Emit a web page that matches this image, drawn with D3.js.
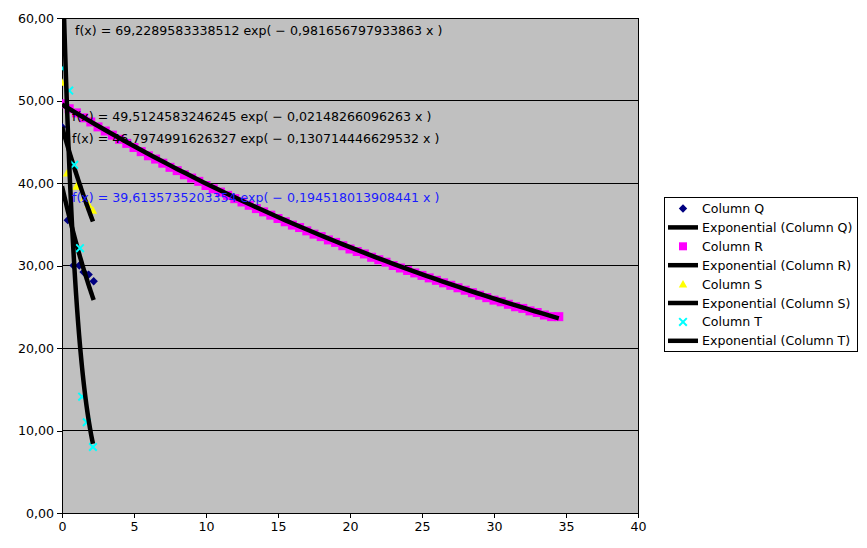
<!DOCTYPE html>
<html><head><meta charset="utf-8">
<script src="https://cdn.jsdelivr.net/npm/d3@7"></script>
<style>body{margin:0;background:#fff}svg{display:block}text{font-family:"DejaVu Sans",sans-serif}</style>
</head><body><svg id="c" width="867" height="548"></svg>
<script>
// Data
const seriesNames = ["Column Q", "Column R", "Column S", "Column T"];
const colQ = [[0,46.8],[0.4,35.5],[0.8,30.0],[1.2,30.0],[1.5,29.2],[1.85,28.9],[2.2,28.1]];
const colRx = [0,0.5,1,1.5,2,2.5,3,3.5,4,4.5,5,5.5,6,6.5,7,7.5,8,8.5,9,9.5,10,10.5,11,11.5,12,12.5,13,13.5,14,14.5,15,15.5,16,16.5,17,17.5,18,18.5,19,19.5,20,20.5,21,21.5,22,22.5,23,23.5,24,24.5,25,25.5,26,26.5,27,27.5,28,28.5,29,29.5,30,30.5,31,31.5,32,32.5,33,33.5,34,34.5];
const colRy = [49.6,49.0,48.5,47.9,47.4,46.8,46.3,45.8,45.3,44.8,44.3,43.8,43.3,42.9,42.4,41.9,41.5,41.0,40.6,40.2,39.7,39.3,38.9,38.5,38.1,37.7,37.3,36.9,36.5,36.1,35.7,35.3,34.9,34.6,34.2,33.8,33.5,33.1,32.8,32.4,32.0,31.7,31.4,31.0,30.7,30.4,30.0,29.7,29.4,29.1,28.8,28.5,28.2,27.9,27.6,27.3,27.0,26.7,26.4,26.1,25.8,25.6,25.3,25.0,24.8,24.5,24.3,24.0,23.8,23.8];
const colS = [[0,52.2],[0.35,41.2],[1.0,39.6],[1.55,38.2],[1.85,37.4],[2.15,36.7]];
const colT = [[0,53.9],[0.5,51.2],[0.85,42.2],[1.25,32.1],[1.4,14.1],[1.72,11.0],[2.15,8.0]];
// Trendline coefficients (from the equations shown)
const trendA = [39.6135735203354, 49.5124583246245, 46.7974991626327, 69.2289583338512];
const trendB = [0.194518013908441, 0.02148266096263, 0.130714446629532, 0.981656797933863];
const trendLabels = [
  "f(x) = 39,6135735203354 exp( \u2212 0,194518013908441 x )",
  "f(x) = 49,5124583246245 exp( \u2212 0,02148266096263 x )",
  "f(x) = 46,7974991626327 exp( \u2212 0,130714446629532 x )",
  "f(x) = 69,2289583338512 exp( \u2212 0,981656797933863 x )"
];
const xTicks = [0,5,10,15,20,25,30,35,40];
const yTicks = [0,10,20,30,40,50,60];
const yTickLabels = ["0,00","10,00","20,00","30,00","40,00","50,00","60,00"];
const legendLabels = ["Column Q","Exponential (Column Q)","Column R","Exponential (Column R)","Column S","Exponential (Column S)","Column T","Exponential (Column T)"];

const colR = colRx.map((x,i)=>[x,colRy[i]]);
const svg = d3.select("#c");
const L=62, R=638, T=18, B=513;
const FS = 12.6;
const x = d3.scaleLinear().domain([0,40]).range([L,R]);
const y = d3.scaleLinear().domain([0,60]).range([B,T]);

svg.append("rect").attr("x",L).attr("y",T).attr("width",R-L).attr("height",B-T).attr("fill","#c0c0c0");
svg.append("g").selectAll("line").data(yTicks).join("line")
  .attr("x1",L).attr("x2",R).attr("y1",d=>y(d)).attr("y2",d=>y(d)).attr("stroke","#000").attr("stroke-width",1).attr("shape-rendering","crispEdges");
svg.append("rect").attr("x",L).attr("y",T).attr("width",R-L).attr("height",B-T).attr("fill","none").attr("stroke","#000").attr("shape-rendering","crispEdges");

const yAxis = svg.append("g").attr("transform",`translate(${L},0)`)
  .call(d3.axisLeft(y).tickValues(yTicks).tickSize(5).tickPadding(3).tickFormat((d,i)=>yTickLabels[i]));
const xAxis = svg.append("g").attr("transform",`translate(0,${B})`)
  .call(d3.axisBottom(x).tickValues(xTicks).tickSize(5).tickPadding(4));
[yAxis,xAxis].forEach(a=>{a.select(".domain").attr("stroke","#000");a.selectAll("line").attr("stroke","#000").attr("shape-rendering","crispEdges");a.selectAll("text").attr("font-size",FS).attr("fill","#000").attr("font-family","DejaVu Sans");});

svg.append("clipPath").attr("id","clip").append("rect").attr("x",L).attr("y",T).attr("width",R-L).attr("height",B-T);
const plot = svg.append("g").attr("clip-path","url(#clip)");

const colors = ["#000080","#ff00ff","#ffff00","#00ffff"];
const data = [colQ, colR, colS, colT];
const line = d3.line().x(d=>x(d[0])).y(d=>y(d[1]));

function drawMarker(g, i, px, py, big){
  let d;
  if(i===0){ const s=4.2; d=`M${px},${py-s}L${px+s},${py}L${px},${py+s}L${px-s},${py}Z`; }
  else if(i===1){ const s=big?4.5:4; d=`M${px-s},${py-s}H${px+s}V${py+s}H${px-s}Z`; }
  else if(i===2){ const s=4.2; d=`M${px},${py-s}L${px+s},${py+3.5}L${px-s},${py+3.5}Z`; }
  if(i===3){
    const s=3.8;
    g.append("path").attr("d",`M${px-s},${py-s}L${px+s},${py+s}M${px-s},${py+s}L${px+s},${py-s}`)
      .attr("stroke",colors[i]).attr("stroke-width",2).attr("fill","none");
  } else {
    g.append("path").attr("d",d).attr("fill",colors[i]);
  }
}

data.forEach((pts,i)=>{
  const g = plot.append("g");
  pts.forEach(p=>drawMarker(g,i,x(p[0]),y(p[1]),true));
  const xmax = d3.max(pts,d=>d[0]);
  const xs = d3.range(0,61).map(k=>xmax*k/60);
  const tr = xs.map(v=>[v, trendA[i]*Math.exp(-trendB[i]*v)]);
  plot.append("path").attr("d",line(tr)).attr("fill","none").attr("stroke","#000").attr("stroke-width",4.5).attr("stroke-linejoin","round");
});

// equation labels
const labelPos = [[72,202,"#1a1aff"],[72,121,"#000"],[72,143,"#000"],[75,35,"#000"]];
trendLabels.forEach((t,i)=>{
  svg.append("text").attr("x",labelPos[i][0]).attr("y",labelPos[i][1]).attr("font-size",FS).attr("fill",labelPos[i][2]).text(t);
});

// legend
const lg = svg.append("g");
lg.append("rect").attr("x",664.5).attr("y",197.5).attr("width",193).attr("height",154).attr("fill","#fff").attr("stroke","#000");
legendLabels.forEach((t,k)=>{
  const cy = 208.5 + k*18.9;
  const si = Math.floor(k/2);
  if(k%2===0){ drawMarker(lg, si, 683, cy, false); }
  else { lg.append("line").attr("x1",668).attr("x2",698).attr("y1",cy).attr("y2",cy).attr("stroke","#000").attr("stroke-width",4.5); }
  lg.append("text").attr("x",702).attr("y",cy+4.5).attr("font-size",FS).attr("fill","#000").text(t);
});
</script></body></html>
